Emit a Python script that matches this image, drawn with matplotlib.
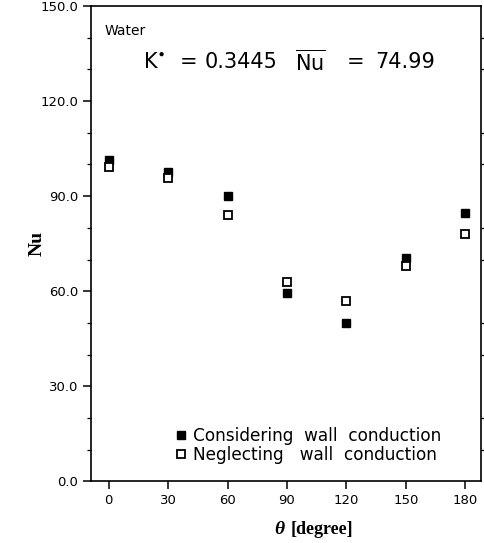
import matplotlib
matplotlib.use("Agg")
import matplotlib.pyplot as plt
from matplotlib.ticker import MultipleLocator, FormatStrFormatter

# angular position around the tube and local Nusselt numbers
theta = [0, 30, 60, 90, 120, 150, 180]
nu_wall = [101.4, 97.7, 90.1, 59.6, 49.9, 70.4, 84.7]
nu_no_wall = [99.1, 95.6, 84.1, 63.0, 56.9, 68.1, 78.0]

k_star = 0.3445
nu_mean = 74.99


def main():
    fig = plt.figure(figsize=(4.85, 5.43), dpi=100)
    ax = fig.add_axes([0.1876, 0.1133, 0.8042, 0.8757])

    ax.plot(theta, nu_wall, linestyle="none", marker="s", markersize=5.5,
            color="black", label="Considering  wall  conduction")
    ax.plot(theta, nu_no_wall, linestyle="none", marker="s", markersize=5.5,
            markerfacecolor="white", markeredgecolor="black",
            markeredgewidth=1.3, label="Neglecting   wall  conduction")

    ax.set_xlim(-9, 188)
    ax.set_ylim(0, 150)
    ax.xaxis.set_major_locator(MultipleLocator(30))
    ax.yaxis.set_major_locator(MultipleLocator(30))
    ax.yaxis.set_minor_locator(MultipleLocator(10))
    ax.yaxis.set_major_formatter(FormatStrFormatter("%.1f"))

    for s in ax.spines.values():
        s.set_linewidth(1.2)
    ax.tick_params(axis="both", which="major", direction="out", length=6,
                   width=1.1, labelsize=9.5, pad=3)
    ax.tick_params(axis="y", which="minor", direction="out", length=3,
                   width=0.9)
    ax.tick_params(axis="y", which="both", right=True)
    ax.tick_params(axis="y", which="major", right=False)

    ax.text(0.036, 0.948, "Water", transform=ax.transAxes, fontsize=10,
            ha="left", va="center")

    # K* and mean Nu written piece by piece for wider spacing
    ty = 0.882
    big = 15
    ax.text(0.133, ty, r"K$^{\bullet}$", transform=ax.transAxes,
            fontsize=big, ha="left", va="center")
    ax.text(0.228, ty, "=", transform=ax.transAxes, fontsize=big,
            ha="left", va="center")
    ax.text(0.292, ty, "%.4f" % k_star, transform=ax.transAxes, fontsize=big,
            ha="left", va="center")
    ax.text(0.523, ty, r"$\overline{\mathrm{Nu}}$", transform=ax.transAxes,
            fontsize=big, ha="left", va="center")
    ax.text(0.656, ty, "=", transform=ax.transAxes, fontsize=big,
            ha="left", va="center")
    ax.text(0.728, ty, "%.2f" % nu_mean, transform=ax.transAxes,
            fontsize=big, ha="left", va="center")

    ax.legend(loc="lower left", bbox_to_anchor=(0.187, 0.012), frameon=False,
              fontsize=12.2, handlelength=0.6, handletextpad=0.4,
              labelspacing=0.05, borderpad=0.2)

    ax.set_ylabel("Nu", family="Liberation Serif", fontweight="bold",
                  fontsize=14)
    ax.yaxis.set_label_coords(-0.115, 0.5)

    # x label: italic theta followed by the unit
    ax.text(0.497, -0.1, "θ", transform=ax.transAxes,
            family="Liberation Serif", fontweight="bold", style="italic",
            fontsize=14, ha="right", va="center")
    ax.text(0.513, -0.1, "[degree]", transform=ax.transAxes,
            family="Liberation Serif", fontweight="bold", fontsize=13,
            ha="left", va="center")

    fig.savefig("out.png", dpi=100)


if __name__ == "__main__":
    main()
